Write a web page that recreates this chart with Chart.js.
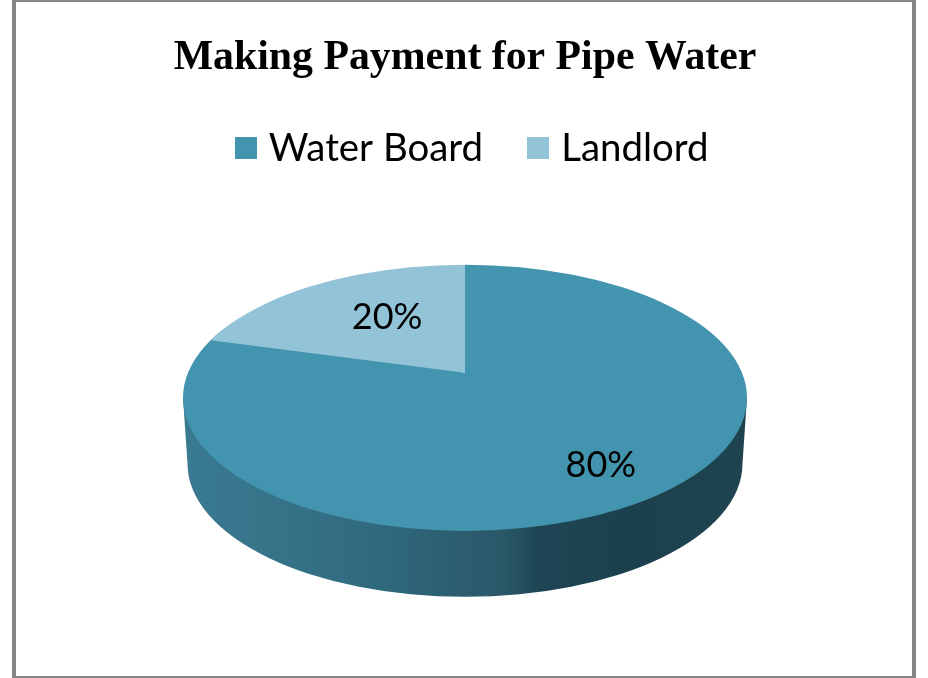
<!DOCTYPE html>
<html>
<head>
<meta charset="utf-8">
<title>Making Payment for Pipe Water</title>
<script src="https://cdn.jsdelivr.net/npm/chart.js@4"></script>
<style>
    html, body { margin: 0; padding: 0; width: 928px; height: 678px; overflow: hidden; background: #ffffff; }
    #frame { position: absolute; left: 12px; top: -2px; width: 896px; height: 674px; border: 4px solid #868686; }
    #paymentChart { position: absolute; left: 0; top: 0; }
</style>
</head>
<body>
<div id="frame"></div>
<canvas id="paymentChart" width="928" height="678"></canvas>
<script>
const titleText = "Making Payment for Pipe Water";
const categories = ["Water Board", "Landlord"];
const shares = [80, 20];
const sliceColors = ["#4394AE", "#93C3D6"];

// how far out each % label sits, as a share of the pie radius
const labelReachX = [0.82, 0.47];
const labelReachY = [0.86, 0.51];

// the tilted pie: radius on screen, then ratios of it
const pieRadius = 282;
const tilt = 0.472;        // top surface height / width
const hubLift = 0.089;     // the hub sits above the ellipse centre (perspective)
const wallDepth = 0.234;   // how far down the bottom edge is
const wallInset = 0.984;   // bottom edge is a bit narrower
const sliceStretch = [[1.21, 0.674], [1.21, 0.475]]; // x and y stretch per slice, clipped by the ellipse
const legendShift = 10;    // legend sits a little right of where the library centres it

const wallStops = [
    [0, "#397A90"], [0.12, "#37758B"], [0.3, "#326C81"], [0.45, "#2D6073"],
    [0.57, "#2A5869"], [0.63, "#1F4655"], [0.8, "#1C404D"], [1, "#1F4450"]
];

function legendSwatch(color) {
    const swatch = document.createElement("canvas");
    swatch.width = 22;
    swatch.height = 22;
    const c = swatch.getContext("2d");
    c.fillStyle = color;
    c.fillRect(0, 0, 22, 22);
    return swatch;
}

// draws the arcs flattened onto an ellipse, with a wall underneath
const tiltedPie = {
    id: "tiltedPie",
    afterLayout(chart) {
        chart.legend.left += legendShift;
        chart.legend.right += legendShift;
    },
    beforeDatasetDraw(chart) {
        const ctx = chart.ctx;
        const arcs = chart.getDatasetMeta(0).data;
        const cx = arcs[0].x;
        const cy = arcs[0].y;
        const r = pieRadius;
        const ry = r * tilt;
        const hubY = cy - r * hubLift;

        // wall
        const bottomY = cy + r * wallDepth;
        const bottomRx = r * wallInset;
        const gradient = ctx.createLinearGradient(cx - bottomRx, 0, cx + bottomRx, 0);
        wallStops.forEach(([at, color]) => gradient.addColorStop(at, color));
        ctx.save();
        ctx.beginPath();
        ctx.moveTo(cx - r, cy);
        ctx.ellipse(cx, bottomY, bottomRx, ry, 0, Math.PI, 0, true);
        ctx.lineTo(cx + r, cy);
        ctx.closePath();
        ctx.fillStyle = gradient;
        ctx.fill();
        ctx.restore();

        // top surface
        ctx.save();
        ctx.beginPath();
        ctx.ellipse(cx, cy, r, ry, 0, 0, Math.PI * 2);
        ctx.clip();
        arcs.forEach((arc, i) => {
            const grow = r / arc.outerRadius;
            ctx.save();
            ctx.translate(cx, hubY);
            ctx.scale(sliceStretch[i][0] * grow, sliceStretch[i][1] * grow);
            ctx.translate(-arc.x, -arc.y);
            arc.draw(ctx);
            ctx.restore();
        });
        ctx.restore();

        // % labels
        ctx.save();
        ctx.fillStyle = "#000000";
        ctx.font = "36px Lato";
        ctx.textAlign = "center";
        ctx.textBaseline = "middle";
        arcs.forEach((arc, i) => {
            const mid = (arc.startAngle + arc.endAngle) / 2;
            const x = cx + Math.cos(mid) * r * labelReachX[i];
            const y = hubY + Math.sin(mid) * ry * labelReachY[i];
            ctx.fillText(shares[i] + "%", x, y);
        });
        ctx.restore();
        return false;
    }
};

new Chart(document.getElementById("paymentChart").getContext("2d"), {
    type: "pie",
    data: {
        labels: categories,
        datasets: [{
            data: shares,
            backgroundColor: sliceColors,
            borderWidth: 0
        }]
    },
    options: {
        responsive: false,
        animation: false,
        layout: { padding: { left: 2, bottom: 60 } },
        plugins: {
            tooltip: { enabled: false },
            title: {
                display: true,
                text: titleText,
                color: "#000000",
                font: { family: "'Liberation Serif'", size: 41.8, weight: "bold" },
                padding: { top: 33, bottom: -5 }
            },
            legend: {
                position: "top",
                labels: {
                    color: "#000000",
                    font: { family: "Lato", size: 38.4 },
                    usePointStyle: true,
                    pointStyleWidth: 8,
                    padding: 51,
                    generateLabels() {
                        return categories.map((name, i) => ({
                            text: name,
                            fontColor: "#000000",
                            pointStyle: legendSwatch(sliceColors[i]),
                            lineWidth: 0,
                            index: i
                        }));
                    }
                }
            }
        }
    },
    plugins: [tiltedPie]
});
</script>
</body>
</html>
